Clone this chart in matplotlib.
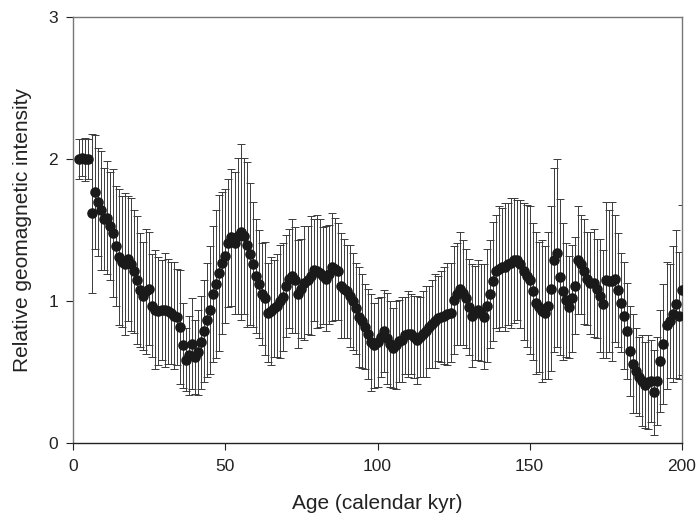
import numpy as np
import matplotlib
matplotlib.use("Agg")
import matplotlib.pyplot as plt

plt.rcParams['font.family'] = ['Liberation Sans', 'DejaVu Sans']

# Age grid (calendar kyr), one sample per kyr
age = np.arange(2, 201)

intensity = [
    2.00, 2.01, 2.00, 2.00, 1.62, 1.77, 1.70, 1.64, 1.58, 1.59,
    1.53, 1.48, 1.39, 1.31, 1.28, 1.26, 1.30, 1.26, 1.21, 1.15,
    1.08, 1.04, 1.07, 1.09, 0.97, 0.94, 0.93, 0.94, 0.94, 0.93,
    0.92, 0.90, 0.89, 0.82, 0.69, 0.59, 0.62, 0.70, 0.61, 0.64,
    0.71, 0.79, 0.87, 0.94, 1.05, 1.12, 1.20, 1.27, 1.32, 1.41,
    1.45, 1.41, 1.46, 1.49, 1.46, 1.40, 1.33, 1.26, 1.18, 1.12,
    1.05, 1.02, 0.92, 0.93, 0.95, 0.97, 1.00, 1.03, 1.11, 1.16,
    1.18, 1.15, 1.05, 1.09, 1.13, 1.15, 1.18, 1.22, 1.21, 1.20,
    1.18, 1.16, 1.19, 1.24, 1.23, 1.21, 1.11, 1.09, 1.07, 1.04,
    1.00, 0.95, 0.89, 0.86, 0.82, 0.77, 0.71, 0.69, 0.71, 0.75,
    0.79, 0.74, 0.70, 0.67, 0.69, 0.72, 0.73, 0.76, 0.77, 0.77,
    0.75, 0.73, 0.75, 0.77, 0.79, 0.82, 0.84, 0.86, 0.88, 0.89,
    0.90, 0.91, 0.92, 1.01, 1.05, 1.09, 1.06, 1.02, 0.96, 0.90,
    0.92, 0.94, 0.92, 0.89, 0.97, 1.05, 1.14, 1.21, 1.23, 1.24,
    1.24, 1.26, 1.27, 1.29, 1.29, 1.26, 1.21, 1.18, 1.15, 1.07,
    0.99, 0.96, 0.93, 0.92, 0.97, 1.09, 1.29, 1.34, 1.17, 1.07,
    1.01, 0.96, 1.02, 1.11, 1.29, 1.26, 1.21, 1.16, 1.13, 1.13,
    1.09, 1.04, 0.98, 1.15, 1.14, 1.14, 1.16, 1.08, 0.99, 0.90,
    0.79, 0.65, 0.56, 0.51, 0.47, 0.44, 0.41, 0.43, 0.44, 0.36,
    0.44, 0.58, 0.70, 0.83, 0.86, 0.91, 0.98, 0.90, 1.08,
]

error = [
    0.14, 0.13, 0.15, 0.14, 0.56, 0.40, 0.38, 0.42, 0.36, 0.40,
    0.38, 0.45, 0.42, 0.48, 0.46, 0.50, 0.44, 0.47, 0.43, 0.45,
    0.40, 0.38, 0.44, 0.40, 0.36, 0.42, 0.38, 0.35, 0.40, 0.37,
    0.36, 0.38, 0.34, 0.40, 0.30, 0.22, 0.28, 0.32, 0.26, 0.30,
    0.33, 0.36, 0.40, 0.45, 0.48, 0.52, 0.55, 0.50, 0.47, 0.45,
    0.48, 0.50, 0.55, 0.62, 0.55, 0.58, 0.50, 0.44, 0.40, 0.38,
    0.36, 0.40, 0.35, 0.38, 0.34, 0.36, 0.40, 0.38, 0.36, 0.35,
    0.40, 0.37, 0.38, 0.35, 0.40, 0.38, 0.42, 0.36, 0.40, 0.38,
    0.34, 0.37, 0.35, 0.38, 0.36, 0.34, 0.37, 0.35, 0.33, 0.36,
    0.34, 0.32, 0.35, 0.33, 0.30, 0.32, 0.34, 0.30, 0.31, 0.28,
    0.29, 0.32, 0.30, 0.28, 0.31, 0.29, 0.30, 0.27, 0.30, 0.28,
    0.29, 0.31, 0.28, 0.30, 0.32, 0.29, 0.31, 0.33, 0.30, 0.32,
    0.34, 0.36, 0.35, 0.38, 0.36, 0.40, 0.37, 0.35, 0.34, 0.36,
    0.33, 0.35, 0.34, 0.37, 0.40, 0.38, 0.42, 0.40, 0.44, 0.42,
    0.45, 0.43, 0.46, 0.44, 0.42, 0.45, 0.48, 0.50, 0.52, 0.48,
    0.50, 0.46, 0.50, 0.47, 0.52, 0.58, 0.65, 0.66, 0.55, 0.48,
    0.40, 0.36, 0.38, 0.34, 0.38, 0.35, 0.37, 0.33, 0.36, 0.38,
    0.35, 0.40, 0.38, 0.55, 0.50, 0.56, 0.45, 0.40, 0.35, 0.38,
    0.34, 0.32, 0.35, 0.30, 0.28, 0.32, 0.30, 0.33, 0.29, 0.30,
    0.31, 0.36, 0.42, 0.45, 0.40, 0.48, 0.52, 0.45, 0.60,
]

x_ticks = [0, 50, 100, 150, 200]
y_ticks = [0, 1, 2, 3]

fig = plt.figure(figsize=(6.96, 5.15), dpi=100)
ax = fig.add_axes([0.1053, 0.1392, 0.8742, 0.8272])

ax.errorbar(age, intensity, yerr=error, fmt='none', ecolor='#3a3a3a',
            elinewidth=0.7, capsize=2.6, capthick=0.7, zorder=2)
ax.plot(age, intensity, 'o', color='#1a1a1a', markersize=7.6,
        markeredgewidth=0, zorder=3)

ax.set_xlim(0, 200)
ax.set_ylim(0, 3)
ax.set_xticks(x_ticks)
ax.set_yticks(y_ticks)
ax.tick_params(axis='both', direction='out', length=5, width=0.8,
               labelsize=12.5, colors='#222222', pad=6)
for side in ['top', 'right', 'left']:
    ax.spines[side].set_color('#777777')
    ax.spines[side].set_linewidth(1.0)
ax.spines['bottom'].set_color('#222222')
ax.spines['bottom'].set_linewidth(1.0)

ax.set_xlabel('Age (calendar kyr)', fontsize=15, color='#222222', labelpad=15)
ax.set_ylabel('Relative geomagnetic intensity', fontsize=15, color='#222222', labelpad=12)

fig.savefig('out.png', dpi=100)
